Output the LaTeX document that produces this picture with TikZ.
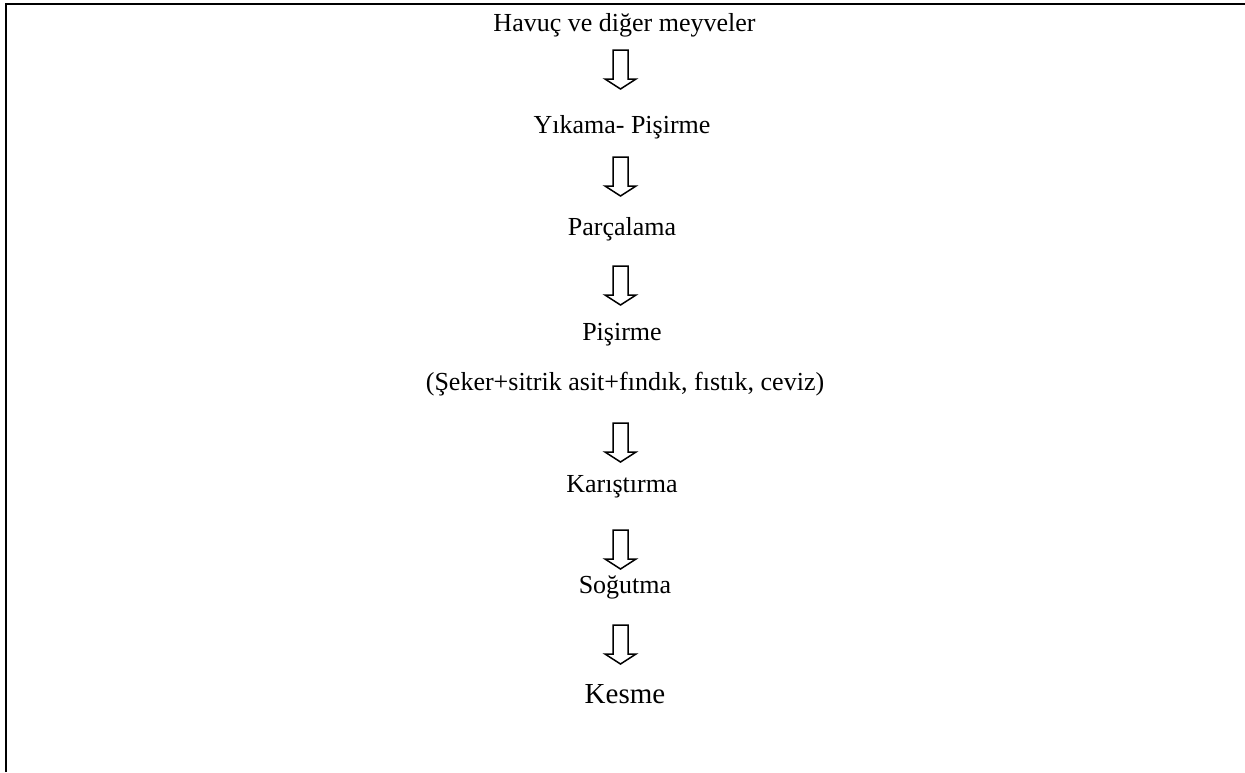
\documentclass[tikz,border=0pt]{standalone}
\usepackage{fontspec}
\setmainfont{Liberation Serif}
\tikzset{
  stepnode/.style={anchor=base, inner sep=0pt, font=\fontsize{13pt}{15pt}\selectfont},
  bigstep/.style={anchor=base, inner sep=0pt, font=\fontsize{14.5pt}{17pt}\selectfont},
  framebox/.style={line width=1pt, line join=miter},
  downarrow/.pic={
    \draw[line width=0.75pt, line join=miter, fill=white]
      (-7.5,0) -- (7.5,0) -- (7.5,29) -- (15.5,29) -- (0,39) -- (-15.5,29) -- (-7.5,29) -- cycle;
  }
}
\begin{document}
\begin{tikzpicture}[x=0.5pt,y=-0.5pt]
\useasboundingbox (0,0) rectangle (1245,772);
\draw[framebox] (6,772) -- (6,4) -- (1245,4);

\node[stepnode] (n1) at (624.5,31) {Havuç ve diğer meyveler};
\node[stepnode] (n2) at (622,133) {Yıkama- Pişirme};
\node[stepnode] (n3) at (622,235) {Parçalama};
\node[stepnode] (n4) at (622,340) {Pişirme};
\node[stepnode] (n5) at (625,390) {(Şeker+sitrik asit+fındık, fıstık, ceviz)};
\node[stepnode] (n6) at (622,492) {Karıştırma};
\node[stepnode] (n7) at (625,593) {Soğutma};
\node[bigstep] (n8) at (625,703) {Kesme};

\pic at (620.5,50) {downarrow};
\pic at (620.5,157) {downarrow};
\pic at (620.5,266) {downarrow};
\pic at (620.5,423) {downarrow};
\pic at (620.5,530) {downarrow};
\pic at (620.5,625) {downarrow};
\end{tikzpicture}
\end{document}
